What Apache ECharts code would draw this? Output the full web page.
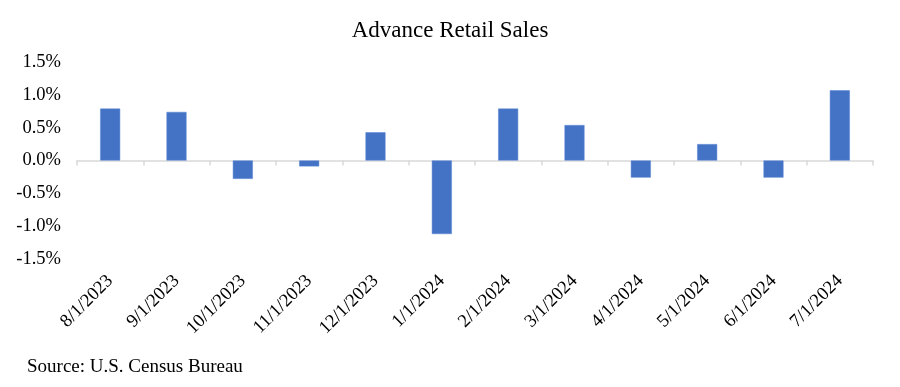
<!DOCTYPE html>
<html>
<head>
<meta charset="utf-8">
<script src="https://cdn.jsdelivr.net/npm/echarts@6/dist/echarts.min.js"></script>
<style>html,body{margin:0;padding:0;background:#fff;}#c{width:900px;height:387px;}</style>
</head>
<body>
<div id="c"></div>
<script>
const categories = ['8/1/2023','9/1/2023','10/1/2023','11/1/2023','12/1/2023','1/1/2024','2/1/2024','3/1/2024','4/1/2024','5/1/2024','6/1/2024','7/1/2024'];
const salesChange = [0.79, 0.74, -0.28, -0.09, 0.43, -1.12, 0.79, 0.54, -0.26, 0.25, -0.26, 1.07];
const titleText = 'Advance Retail Sales';
const sourceText = 'Source: U.S. Census Bureau';

const serif = '"Liberation Serif", "DejaVu Serif", serif';
const chart = echarts.init(document.getElementById('c'), null, {renderer: 'canvas'});
chart.setOption({
  animation: false,
  backgroundColor: '#fff',
  title: [
    {text: titleText, left: 'center', top: 14, textStyle: {fontFamily: serif, fontSize: 23, fontWeight: 'normal', color: '#000'}},
    {text: sourceText, left: 22, top: 353, textStyle: {fontFamily: serif, fontSize: 19, fontWeight: 'normal', color: '#000'}}
  ],
  grid: {left: 77, right: 27, top: 62, bottom: 128, containLabel: false},
  xAxis: {
    type: 'category',
    data: categories,
    axisLine: {onZero: true, lineStyle: {color: '#d9d9d9', width: 1.5}},
    axisTick: {show: true, alignWithLabel: false, length: 5, lineStyle: {color: '#d9d9d9', width: 1.5}},
    axisLabel: {rotate: 45, interval: 0, fontFamily: serif, fontSize: 18.5, color: '#000', margin: 19}
  },
  yAxis: {
    type: 'value',
    min: -1.5, max: 1.5, interval: 0.5,
    axisLine: {show: false},
    axisTick: {show: false},
    splitLine: {show: false},
    axisLabel: {fontFamily: serif, fontSize: 18.5, color: '#000', margin: 16, formatter: v => v.toFixed(1) + '%'}
  },
  series: [{
    type: 'bar',
    data: salesChange,
    barWidth: 20,
    itemStyle: {color: '#4472C4', borderColor: '#5b86d6', borderWidth: 0.5}
  }]
});
</script>
</body>
</html>
